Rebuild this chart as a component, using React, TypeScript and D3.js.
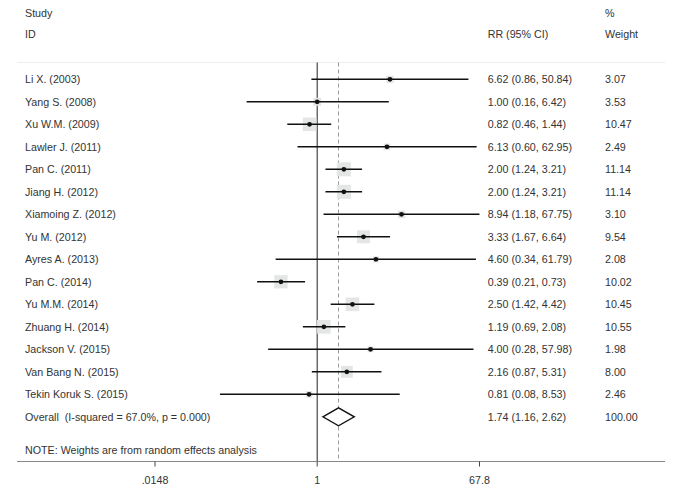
import React from "react";
import * as d3 from "d3";

const studies = [
  "Li X. (2003)", "Yang S. (2008)", "Xu W.M. (2009)", "Lawler J. (2011)", "Pan C. (2011)",
  "Jiang H. (2012)", "Xiamoing Z. (2012)", "Yu M. (2012)", "Ayres A. (2013)", "Pan C. (2014)",
  "Yu M.M. (2014)", "Zhuang H. (2014)", "Jackson V. (2015)", "Van Bang N. (2015)", "Tekin Koruk S. (2015)",
];
const rr = [6.62, 1.0, 0.82, 6.13, 2.0, 2.0, 8.94, 3.33, 4.6, 0.39, 2.5, 1.19, 4.0, 2.16, 0.81];
const lower = [0.86, 0.16, 0.46, 0.6, 1.24, 1.24, 1.18, 1.67, 0.34, 0.21, 1.42, 0.69, 0.28, 0.87, 0.08];
const upper = [50.84, 6.42, 1.44, 62.95, 3.21, 3.21, 67.75, 6.64, 61.79, 0.73, 4.42, 2.08, 57.98, 5.31, 8.53];
const weights = [3.07, 3.53, 10.47, 2.49, 11.14, 11.14, 3.1, 9.54, 2.08, 10.02, 10.45, 10.55, 1.98, 8.0, 2.46];
const overall = { label: "Overall  (I-squared = 67.0%, p = 0.000)", rr: 1.74, lower: 1.16, upper: 2.62, weight: 100.0 };
const tickValues = [0.0148, 1, 67.8];
const tickLabels = [".0148", "1", "67.8"];

const fmt = (v: number) => v.toFixed(2);

export default function App() {
  const W = 679, H = 504;
  const x = d3.scaleLog().domain([0.0148, 67.8]).range([155, 479.5]);
  const rowY = (i: number) => 79.3 + i * 22.5;
  const axisY = 461.5;
  const topY = 62.5;
  const font = "'Liberation Sans', Arial, sans-serif";
  const fs = 10.7;
  const txt = "#333";
  const sq = (w: number) => 4.2 * Math.sqrt(w);
  const oy = rowY(15);

  return (
    <svg width={W} height={H} style={{ position: "absolute", left: 0, top: 0 }} fontFamily={font} fontSize={fs}>
      <rect x={0} y={0} width={W} height={H} fill="#fff" />
      {/* headers */}
      <text x={25} y={13} dy="0.35em" fill={txt}>Study</text>
      <text x={25} y={34} dy="0.35em" fill={txt}>ID</text>
      <text x={487.7} y={34} dy="0.35em" fill={txt}>RR (95% CI)</text>
      <text x={605} y={13} dy="0.35em" fill={txt}>%</text>
      <text x={605} y={34} dy="0.35em" fill={txt}>Weight</text>
      <line x1={17} x2={665} y1={topY} y2={topY} stroke="#eee" strokeWidth={1} />

      {/* null line and overall dashed line */}
      <line x1={x(1)} x2={x(1)} y1={topY} y2={axisY} stroke="#222" strokeWidth={1} />
      <line x1={x(overall.rr)} x2={x(overall.rr)} y1={topY} y2={axisY} stroke="#999" strokeWidth={1} strokeDasharray="4,3" />

      {studies.map((s, i) => {
        const y = rowY(i);
        const side = sq(weights[i]);
        return (
          <g key={s}>
            <rect x={x(rr[i]) - side / 2} y={y - side / 2} width={side} height={side} fill="#e4e6e6" />
            <line x1={x(lower[i])} x2={x(Math.min(upper[i], 67.8))} y1={y} y2={y} stroke="#111" strokeWidth={1.6} />
            <circle cx={x(rr[i])} cy={y} r={2.4} fill="#111" />
            <text x={25} y={y} dy="0.35em" fill={txt}>{s}</text>
            <text x={487.7} y={y} dy="0.35em" fill={txt}>{`${fmt(rr[i])} (${fmt(lower[i])}, ${fmt(upper[i])})`}</text>
            <text x={605} y={y} dy="0.35em" fill={txt}>{fmt(weights[i])}</text>
          </g>
        );
      })}

      {/* overall */}
      <path
        d={`M${x(overall.lower)},${oy} L${x(overall.rr)},${oy - 9} L${x(overall.upper)},${oy} L${x(overall.rr)},${oy + 9} Z`}
        fill="#fff" stroke="#111" strokeWidth={1.4}
      />
      <text x={25} y={oy} dy="0.35em" fill={txt} style={{ whiteSpace: "pre" }}>{overall.label}</text>
      <text x={487.7} y={oy} dy="0.35em" fill={txt}>{`${fmt(overall.rr)} (${fmt(overall.lower)}, ${fmt(overall.upper)})`}</text>
      <text x={605} y={oy} dy="0.35em" fill={txt}>{fmt(overall.weight)}</text>

      <text x={25} y={450.6} dy="0.35em" fill={txt}>NOTE: Weights are from random effects analysis</text>

      {/* axis */}
      <line x1={17} x2={665} y1={axisY} y2={axisY} stroke="#888" strokeWidth={1} />
      {tickValues.map((t, i) => (
        <g key={t}>
          <line x1={x(t)} x2={x(t)} y1={axisY} y2={axisY + 5} stroke="#444" strokeWidth={1} />
          <text x={x(t)} y={480} dy="0.35em" textAnchor="middle" fill={txt}>{tickLabels[i]}</text>
        </g>
      ))}
    </svg>
  );
}
